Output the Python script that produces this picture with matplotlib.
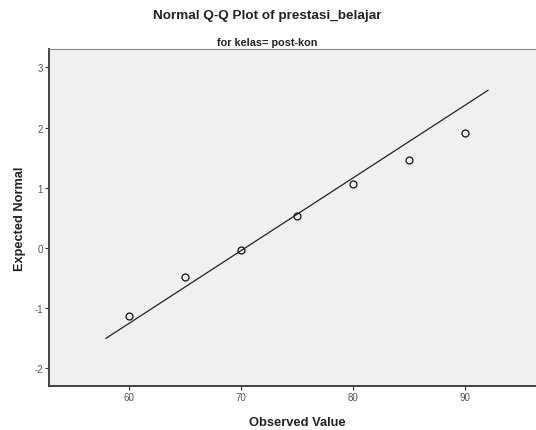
import matplotlib
matplotlib.use("Agg")
import matplotlib.pyplot as plt

plt.rcParams['font.family'] = ['Liberation Sans', 'DejaVu Sans']
plt.rcParams['axes.unicode_minus'] = False

observed = [60, 65, 70, 75, 80, 85, 90]
expected = [-1.13, -0.485, -0.03, 0.53, 1.07, 1.47, 1.91]
line_x = [57.95, 92.05]
line_y = [-1.50, 2.62]
xticks = [60, 70, 80, 90]
yticks = [-2, -1, 0, 1, 2, 3]

W, H = 536, 431
fig = plt.figure(figsize=(W / 100, H / 100), dpi=100)
fig.patch.set_facecolor('white')
ax = fig.add_axes([49 / W, 44 / H, (545 - 49) / W, (387 - 50) / H])
ax.set_facecolor('#f0f0f0')

ax.plot(line_x, line_y, color='#222222', lw=0.9)
ax.plot(observed, expected, linestyle='none', marker='o', markersize=5,
        markerfacecolor='none', markeredgecolor='#111111', markeredgewidth=0.9)

ax.set_xlim(52.86, 97.14)
ax.set_ylim(-2.292, 3.306)
ax.set_xticks(xticks)
ax.set_yticks(yticks)
ax.tick_params(axis='both', direction='out', length=3, width=0.8, color='#333333',
               labelsize=7, labelcolor='#555555', pad=1.5)

for s in ['left', 'bottom']:
    ax.spines[s].set_color('#444444')
    ax.spines[s].set_linewidth(1.4)
ax.spines['top'].set_color('#888888')
ax.spines['top'].set_linewidth(0.8)
ax.spines['right'].set_visible(False)

ax.set_xlabel('Observed Value', fontsize=9.3, fontweight='bold', color='#222222', labelpad=10)
ax.set_ylabel('Expected Normal', fontsize=9.2, fontweight='bold', color='#222222', labelpad=6)

fig.text(267 / W, 1 - 16 / H, 'Normal Q-Q Plot of prestasi_belajar', ha='center', va='center',
         fontsize=9.7, fontweight='bold', color='#222222')
fig.text(267 / W, 1 - 43 / H, 'for kelas= post-kon', ha='center', va='center',
         fontsize=7.8, fontweight='bold', color='#222222')

fig.savefig('out.png', dpi=100)
